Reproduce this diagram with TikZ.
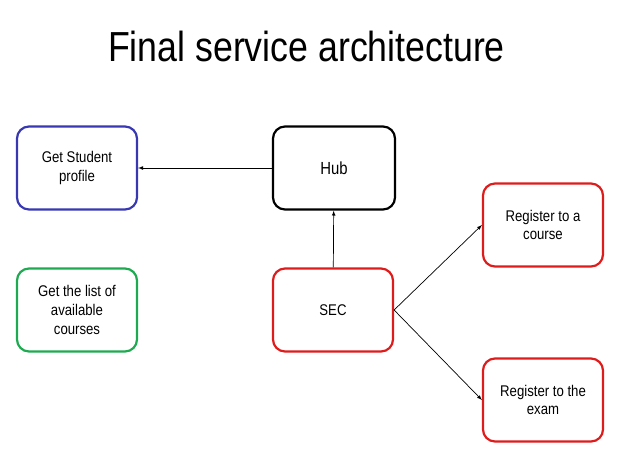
\documentclass[tikz,border=0pt]{standalone}
\usepackage{fontspec}
\usepackage{tikz}
\usetikzlibrary{arrows}
\setmainfont{Liberation Sans}
\newfontfamily\narrowsans[FakeStretch=0.85]{Liberation Sans}
\definecolor{profileblue}{RGB}{56,56,178}
\definecolor{listgreen}{RGB}{30,170,80}
\definecolor{secred}{RGB}{222,28,28}

\tikzset{
  box/.style={draw, rectangle, rounded corners=12pt, line width=2.2pt,
    minimum width=120pt, minimum height=83pt, align=center,
    font=\narrowsans\fontsize{15.5}{18.7}\selectfont},
  link/.style={->, >=latex, line width=0.7pt}
}

\begin{document}
\begin{tikzpicture}[x=1pt, y=1pt, node distance = 142pt]
\useasboundingbox (0,0) rectangle (638,-467);
\node[anchor=base, font=\narrowsans\fontsize{42}{46}\selectfont] (title) at (306.5,-61.5) {Final service architecture};

\node[box, draw=profileblue] (profile) at (77,-168) {Get Student\\profile};
\node[box, minimum width=122pt, font=\narrowsans\fontsize{17.5}{20}\selectfont] (hub) [right of = profile, node distance=257pt] {Hub};
\node[box, draw=listgreen] (list) [below of = profile] {Get the list of\\available\\courses};
\node[box, draw=secred] (sec) [below of = hub, xshift=-1pt] {SEC};
\node[box, draw=secred] (course) [right of = sec, node distance=210pt, yshift=85pt] {Register to a\\course};
\node[box, draw=secred] (exam) [right of = sec, node distance=210pt, yshift=-90pt] {Register to the\\exam};

\draw[link] (hub) -- (profile);
\draw[link] (sec) -- (hub);
\draw[link] (sec.east) -- (course.west);
\draw[link] (sec.east) -- (exam.west);
\end{tikzpicture}
\end{document}
